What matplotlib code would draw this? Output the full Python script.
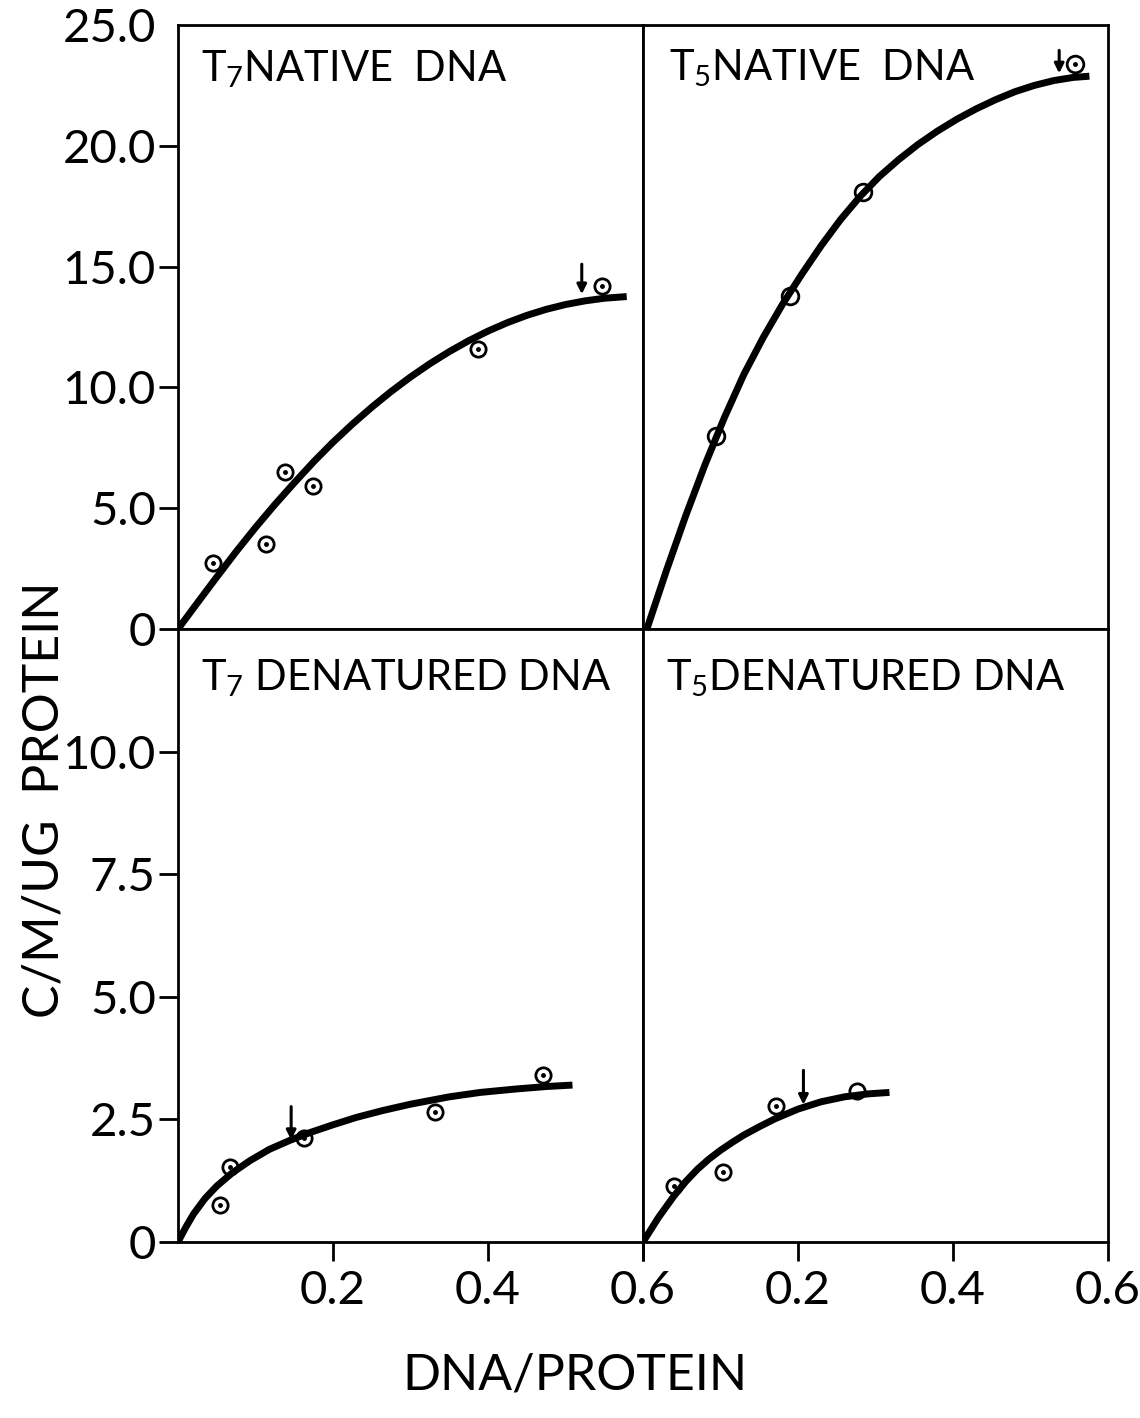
import matplotlib
matplotlib.use("Agg")
import matplotlib.pyplot as plt

plt.rcParams['font.family'] = ['Lato', 'DejaVu Sans']
plt.rcParams['mathtext.fontset'] = 'custom'
plt.rcParams['mathtext.rm'] = 'Lato'
plt.rcParams['mathtext.default'] = 'rm'

# T7 native DNA
t7n_x = [0.045, 0.113, 0.138, 0.174, 0.387, 0.547]
t7n_y = [2.75, 3.5, 6.5, 5.9, 11.6, 14.2]
t7n_fit_x = [0.0, 0.025, 0.05, 0.075, 0.1, 0.125, 0.15, 0.175, 0.2, 0.225, 0.25, 0.275,
             0.3, 0.325, 0.35, 0.375, 0.4, 0.425, 0.45, 0.475, 0.5, 0.525, 0.55, 0.579]
t7n_fit_y = [0.0, 1.08, 2.15, 3.2, 4.2, 5.15, 6.05, 6.92, 7.73, 8.48, 9.18, 9.83,
             10.43, 10.98, 11.48, 11.93, 12.33, 12.68, 12.98, 13.23, 13.43, 13.58, 13.69, 13.76]

# T5 native DNA
t5n_x = [0.094, 0.19, 0.284, 0.557]
t5n_y = [8.0, 13.8, 18.1, 23.4]
t5n_fit_x = [0.005, 0.03, 0.055, 0.08, 0.105, 0.13, 0.155, 0.18, 0.205, 0.23, 0.255, 0.28,
             0.305, 0.33, 0.355, 0.38, 0.405, 0.43, 0.455, 0.48, 0.505, 0.53, 0.555, 0.576]
t5n_fit_y = [0.0, 2.4, 4.68, 6.8, 8.75, 10.53, 12.06, 13.44, 14.69, 15.87, 16.95, 17.9,
             18.73, 19.43, 20.06, 20.61, 21.1, 21.53, 21.91, 22.24, 22.5, 22.7, 22.83, 22.88]

# T7 denatured DNA
t7d_x = [0.054, 0.067, 0.162, 0.332, 0.471]
t7d_y = [0.75, 1.53, 2.13, 2.65, 3.4]
t7d_fit_x = [0.0, 0.01, 0.02, 0.035, 0.05, 0.07, 0.093, 0.118, 0.144, 0.17, 0.2, 0.23,
             0.264, 0.3, 0.35, 0.39, 0.436, 0.475, 0.509]
t7d_fit_y = [0.0, 0.3, 0.57, 0.89, 1.14, 1.41, 1.66, 1.89, 2.07, 2.23, 2.39, 2.54,
             2.68, 2.81, 2.96, 3.05, 3.12, 3.17, 3.2]

# T5 denatured DNA
t5d_x = [0.04, 0.103, 0.171, 0.276]
t5d_y = [1.15, 1.43, 2.77, 3.08]
t5d_fit_x = [0.0, 0.02, 0.04, 0.055, 0.07, 0.085, 0.1, 0.115, 0.13, 0.15, 0.17, 0.2,
             0.23, 0.26, 0.29, 0.318]
t5d_fit_y = [0.0, 0.5, 0.94, 1.23, 1.48, 1.69, 1.87, 2.03, 2.18, 2.35, 2.51, 2.71,
             2.86, 2.96, 3.02, 3.05]

# arrows: (x, from y, to y)
arrows = {
    't7n': (0.521, 15.1, 13.86),
    't5n': (0.537, 23.95, 23.0),
    't7d': (0.146, 2.76, 2.08),
    't5d': (0.207, 3.5, 2.8),
}

top_yticks = [0, 5, 10, 15, 20, 25]
top_ylabels = ['0', '5.0', '10.0', '15.0', '20.0', '25.0']
bot_yticks = [0, 2.5, 5.0, 7.5, 10.0]
bot_ylabels = ['0', '2.5', '5.0', '7.5', '10.0']
xticks = [0.2, 0.4, 0.6]
xlabels = ['0.2', '0.4', '0.6']

fig = plt.figure(figsize=(11.4, 14.18), dpi=100)

L0, R0, W = 0.15614, 0.56404, 0.40789
TB, TH = 0.55642, 0.42595
BB, BH = 0.12412, 0.43230

ax_tl = fig.add_axes([L0, TB, W, TH])
ax_tr = fig.add_axes([R0, TB, W, TH])
ax_bl = fig.add_axes([L0, BB, W, BH])
ax_br = fig.add_axes([R0, BB, W, BH])

for ax in (ax_tl, ax_tr, ax_bl, ax_br):
    ax.set_xlim(0, 0.6)
    for s in ax.spines.values():
        s.set_linewidth(2.0)
    ax.tick_params(direction='out', length=14, width=2, labelsize=34, pad=2)
for ax in (ax_tl, ax_tr):
    ax.set_ylim(0, 25)
    ax.set_xticks([])
for ax in (ax_bl, ax_br):
    ax.set_ylim(0, 12.5)
for ax in (ax_tr, ax_br):
    ax.set_yticks([])

ax_tl.set_yticks(top_yticks)
ax_tl.set_yticklabels(top_ylabels)
ax_tl.yaxis.get_major_ticks()[-1].tick1line.set_visible(False)
ax_bl.set_yticks(bot_yticks)
ax_bl.set_yticklabels(bot_ylabels)
ax_bl.set_xticks(xticks)
ax_bl.set_xticklabels(xlabels)
ax_br.set_xticks([0.0] + xticks)
ax_br.set_xticklabels([''] + xlabels)
ax_bl.tick_params(axis='x', pad=6)
ax_br.tick_params(axis='x', pad=6)


def draw(ax, fx, fy, px, py, dotted, arrow, ms=11):
    ax.plot(fx, fy, color='black', lw=5, solid_capstyle='butt',
            solid_joinstyle='round', zorder=2)
    ax.plot(px, py, 'o', ms=ms, mfc='none', mec='black', mew=2, zorder=3)
    dx = [px[i] for i in dotted]
    dy = [py[i] for i in dotted]
    ax.plot(dx, dy, 'o', ms=2.5, color='black', zorder=4)
    x, y0, y1 = arrow
    ax.annotate('', xy=(x, y1), xytext=(x, y0),
                arrowprops=dict(arrowstyle='-|>', lw=2.2, color='black',
                                mutation_scale=14, shrinkA=0, shrinkB=0))


draw(ax_tl, t7n_fit_x, t7n_fit_y, t7n_x, t7n_y, range(6), arrows['t7n'])
draw(ax_tr, t5n_fit_x, t5n_fit_y, t5n_x, t5n_y, [3], arrows['t5n'], ms=12)
draw(ax_bl, t7d_fit_x, t7d_fit_y, t7d_x, t7d_y, range(5), arrows['t7d'])
draw(ax_br, t5d_fit_x, t5d_fit_y, t5d_x, t5d_y, [0, 1, 2], arrows['t5d'])

title_kw = dict(fontsize=30, va='baseline', ha='left')
ax_tl.text(0.05, 0.906, 'T$_7$NATIVE  DNA', transform=ax_tl.transAxes, **title_kw)
ax_tr.text(0.055, 0.909, 'T$_5$NATIVE  DNA', transform=ax_tr.transAxes, **title_kw)
ax_bl.text(0.05, 0.900, 'T$_7$ DENATURED DNA', transform=ax_bl.transAxes, **title_kw)
ax_br.text(0.05, 0.900, 'T$_5$DENATURED DNA', transform=ax_br.transAxes, **title_kw)

fig.text(45 / 1140, 1 - 800 / 1418, 'C/M/UG  PROTEIN', rotation=90,
         ha='center', va='center', fontsize=36)
fig.text(575 / 1140, 1 - 1375 / 1418, 'DNA/PROTEIN',
         ha='center', va='center', fontsize=36)

fig.savefig('out.png', dpi=100, facecolor='white')
